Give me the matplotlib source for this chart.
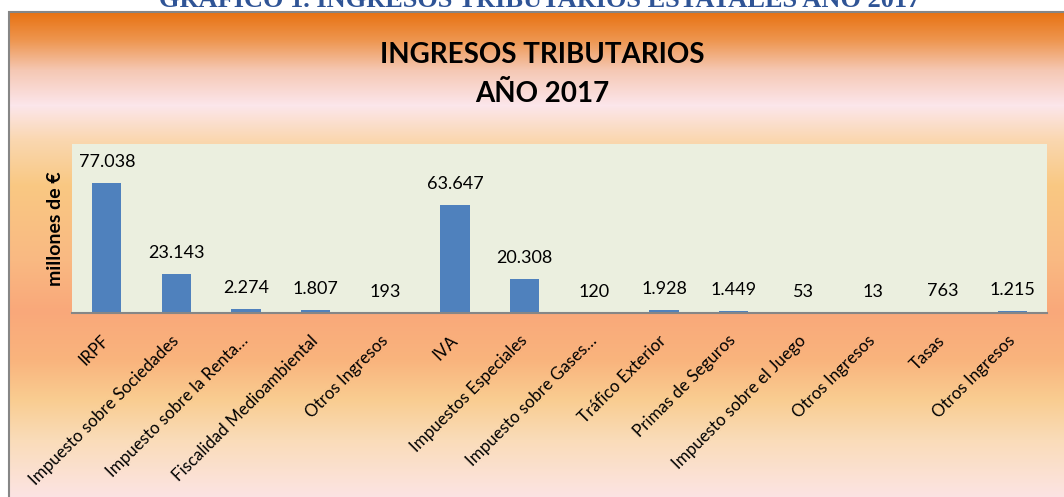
"""
ingresos tributarios 2017 - bar chart with excel-like gradient frame
"""

import matplotlib
matplotlib.use('Agg')
import matplotlib.pyplot as plt
import numpy as np
from matplotlib.patches import Rectangle

# data
categorias = ['IRPF', 'Impuesto sobre Sociedades', 'Impuesto sobre la Renta…',
              'Fiscalidad Medioambiental', 'Otros Ingresos', 'IVA',
              'Impuestos Especiales', 'Impuesto sobre Gases…', 'Tráfico Exterior',
              'Primas de Seguros', 'Impuesto sobre el Juego', 'Otros Ingresos',
              'Tasas', 'Otros Ingresos']
valores = [77038, 23143, 2274, 1807, 193, 63647, 20308, 120, 1928, 1449, 53, 13, 763, 1215]

W, H = 1064, 497
plt.rcParams['font.family'] = ['Lato', 'DejaVu Sans']

fig = plt.figure(figsize=(W / 100, H / 100), dpi=100)
fig.patch.set_facecolor('white')

# gradient background of the chart frame (stops)
stop_y = [12, 40, 70, 105, 140, 185, 260, 310, 360, 400, 440, 497]
stop_c = [(232, 114, 18), (238, 150, 80), (245, 200, 180), (252, 230, 235),
          (250, 215, 175), (249, 200, 130), (249, 185, 130), (249, 168, 122),
          (249, 180, 125), (249, 205, 145), (250, 220, 185), (252, 228, 228)]
rows = np.arange(12, H)
grad = np.stack([np.interp(rows, stop_y, [c[k] for c in stop_c]) for k in range(3)], axis=1) / 255
bg = fig.add_axes([9 / W, 0, 1 - 9 / W, (H - 12) / H])
bg.imshow(grad[:, None, :], aspect='auto', extent=[0, 1, 0, 1], origin='upper')
bg.set_axis_off()
fig.patches.append(Rectangle((9 / W, -0.1), 1.2, (H - 12) / H + 0.1, transform=fig.transFigure,
                             fill=False, edgecolor='#868686', lw=1.5))

# header of the document, cut at the top (as in the source)
fig.text(540 / W, 1 - 7 / H, 'GRÁFICO 1. INGRESOS TRIBUTARIOS ESTATALES AÑO 2017',
         family='Liberation Serif', fontweight='bold', fontsize=19, color='#2F5496',
         ha='center', va='baseline')

# chart title
fig.text(542 / W, 1 - 63 / H, 'INGRESOS TRIBUTARIOS', fontweight='bold', fontsize=20,
         ha='center', va='baseline')
fig.text(542 / W, 1 - 102 / H, 'AÑO 2017', fontweight='bold', fontsize=20,
         ha='center', va='baseline')

# plot area
ax = fig.add_axes([72 / W, (H - 313) / H, 975 / W, 169 / H])
ax.set_facecolor('#EBEFDF')
x = np.arange(len(valores))
bars = ax.bar(x, valores, width=0.42, color='#4F81BD')
ax.set_xlim(-0.5, len(valores) - 0.5)
ax.set_ylim(0, 100000)

for xi, v in zip(x, valores):
    ax.annotate(f'{v:,}'.replace(',', '.'), (xi, v), xytext=(0, 11.5), textcoords='offset points',
                ha='center', va='baseline', fontsize=13)

for s in ['top', 'right', 'left']:
    ax.spines[s].set_visible(False)
ax.spines['bottom'].set_color('#868686')
ax.spines['bottom'].set_linewidth(1.5)
ax.set_yticks([])
ax.set_xticks(x)
ax.set_xticklabels(categorias, rotation=45, ha='right', va='center', rotation_mode='anchor', fontsize=12.2)
ax.tick_params(axis='x', length=0, pad=18)

ax.set_ylabel('millones de €', fontweight='bold', fontsize=14)
ax.yaxis.set_label_coords(-0.008, 0.5)

fig.savefig('out.png', dpi=100)
